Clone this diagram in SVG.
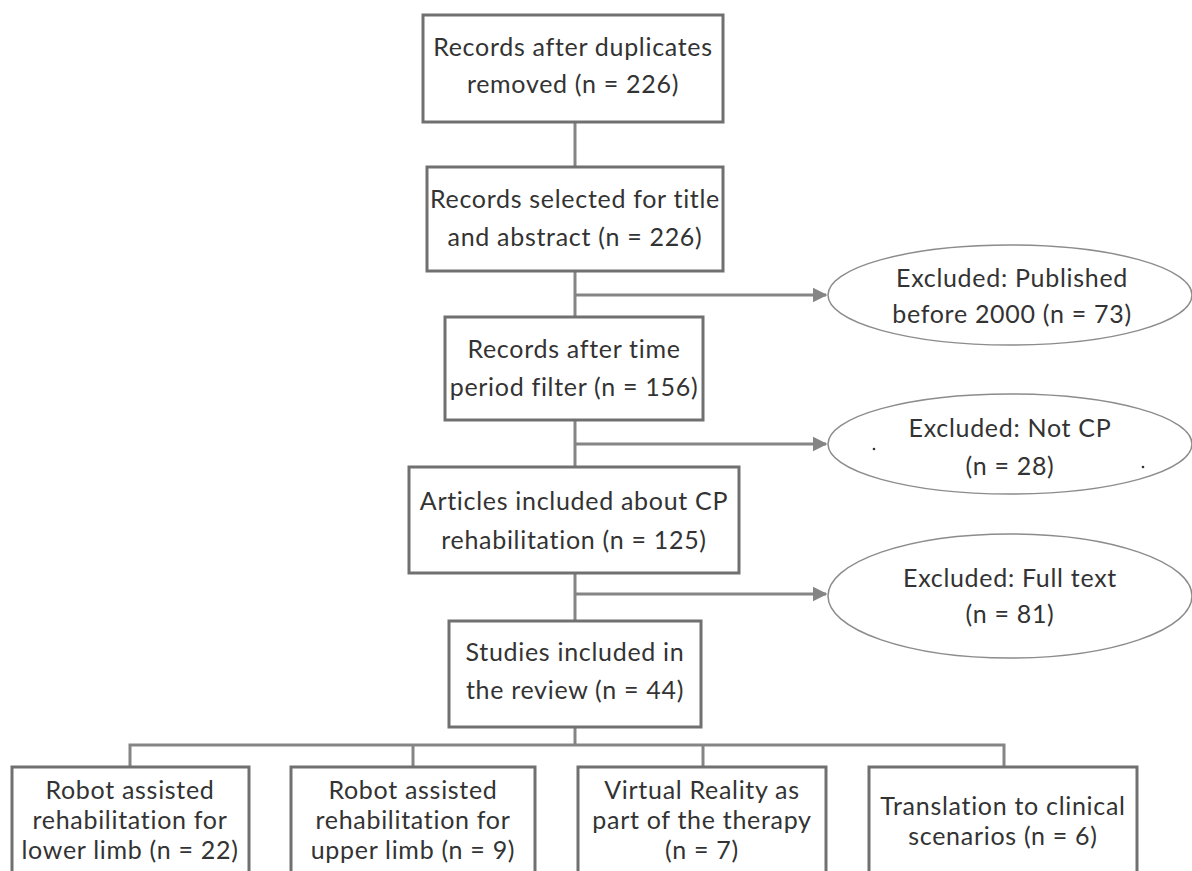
<svg xmlns="http://www.w3.org/2000/svg" width="1192" height="871" viewBox="0 0 1192 871">
<style>
.box{fill:#fff;stroke:#707070;stroke-width:3}
.ell{fill:#fff;stroke:#8c8c8c;stroke-width:1.5}
.ln{fill:none;stroke:#858585;stroke-width:3}
text{font-family:Lato,"Open Sans","Liberation Sans",sans-serif;font-size:25px;letter-spacing:0.7px;fill:#333;text-anchor:middle}
</style>
<defs>
<marker id="ah" viewBox="0 0 10 10" refX="9" refY="5" markerWidth="5" markerHeight="5" orient="auto" markerUnits="strokeWidth">
<path d="M0,0 L10,5 L0,10 z" fill="#858585"/>
</marker>
</defs>
<rect width="1192" height="871" fill="#fff"/>
<g id="connectors">
<line class="ln" x1="575" y1="122" x2="575" y2="167"/>
<line class="ln" x1="575" y1="271" x2="575" y2="317"/>
<line class="ln" x1="575" y1="420" x2="575" y2="467"/>
<line class="ln" x1="575" y1="573" x2="575" y2="621"/>
<line class="ln" x1="575" y1="295" x2="826" y2="295" marker-end="url(#ah)"/>
<line class="ln" x1="575" y1="444" x2="826" y2="444" marker-end="url(#ah)"/>
<line class="ln" x1="575" y1="594" x2="826" y2="594" marker-end="url(#ah)"/>
<line class="ln" x1="575" y1="727" x2="575" y2="745"/>
<polyline class="ln" points="130,767 130,745 1004,745 1004,767"/>
<line class="ln" x1="413" y1="745" x2="413" y2="767"/>
<line class="ln" x1="703" y1="745" x2="703" y2="767"/>
</g>
<g id="n1"><rect class="box" x="423" y="15" width="300" height="107"/>
<text x="573" y="56">Records after duplicates</text><text x="573" y="93">removed (n = 226)</text></g>
<g id="n2"><rect class="box" x="427" y="167" width="296" height="104"/>
<text x="575" y="208">Records selected for title</text><text x="575" y="246">and abstract (n = 226)</text></g>
<g id="e1"><ellipse class="ell" cx="1010" cy="295" rx="182" ry="50"/>
<text x="1012" y="287">Excluded: Published</text><text x="1012" y="323">before 2000 (n = 73)</text></g>
<g id="n3"><rect class="box" x="445" y="317" width="258" height="103"/>
<text x="574" y="358">Records after time</text><text x="574" y="396">period filter (n = 156)</text></g>
<g id="e2"><ellipse class="ell" cx="1010" cy="444" rx="182" ry="50"/>
<text x="1010" y="437">Excluded: Not CP</text><text x="1010" y="475">(n = 28)</text>
<circle cx="874" cy="449" r="1.3" fill="#333"/><circle cx="1143" cy="467" r="1.3" fill="#333"/></g>
<g id="n4"><rect class="box" x="409" y="467" width="330" height="106"/>
<text x="574" y="510">Articles included about CP</text><text x="574" y="549">rehabilitation (n = 125)</text></g>
<g id="e3"><ellipse class="ell" cx="1010" cy="596" rx="182" ry="62"/>
<text x="1010" y="587">Excluded: Full text</text><text x="1010" y="623">(n = 81)</text></g>
<g id="n5"><rect class="box" x="449" y="621" width="252" height="106"/>
<text x="575" y="661">Studies included in</text><text x="575" y="699">the review (n = 44)</text></g>
<g id="n6"><rect class="box" x="12" y="767" width="237" height="120"/>
<text x="130" y="799">Robot assisted</text><text x="130" y="829">rehabilitation for</text><text x="130" y="859">lower limb (n = 22)</text></g>
<g id="n7"><rect class="box" x="291" y="767" width="244" height="120"/>
<text x="413" y="799">Robot assisted</text><text x="413" y="829">rehabilitation for</text><text x="413" y="859">upper limb (n = 9)</text></g>
<g id="n8"><rect class="box" x="578" y="767" width="248" height="120"/>
<text x="702" y="799">Virtual Reality as</text><text x="702" y="829">part of the therapy</text><text x="702" y="859">(n = 7)</text></g>
<g id="n9"><rect class="box" x="869" y="767" width="268" height="120"/>
<text x="1003" y="815">Translation to clinical</text><text x="1003" y="845">scenarios (n = 6)</text></g>
</svg>
